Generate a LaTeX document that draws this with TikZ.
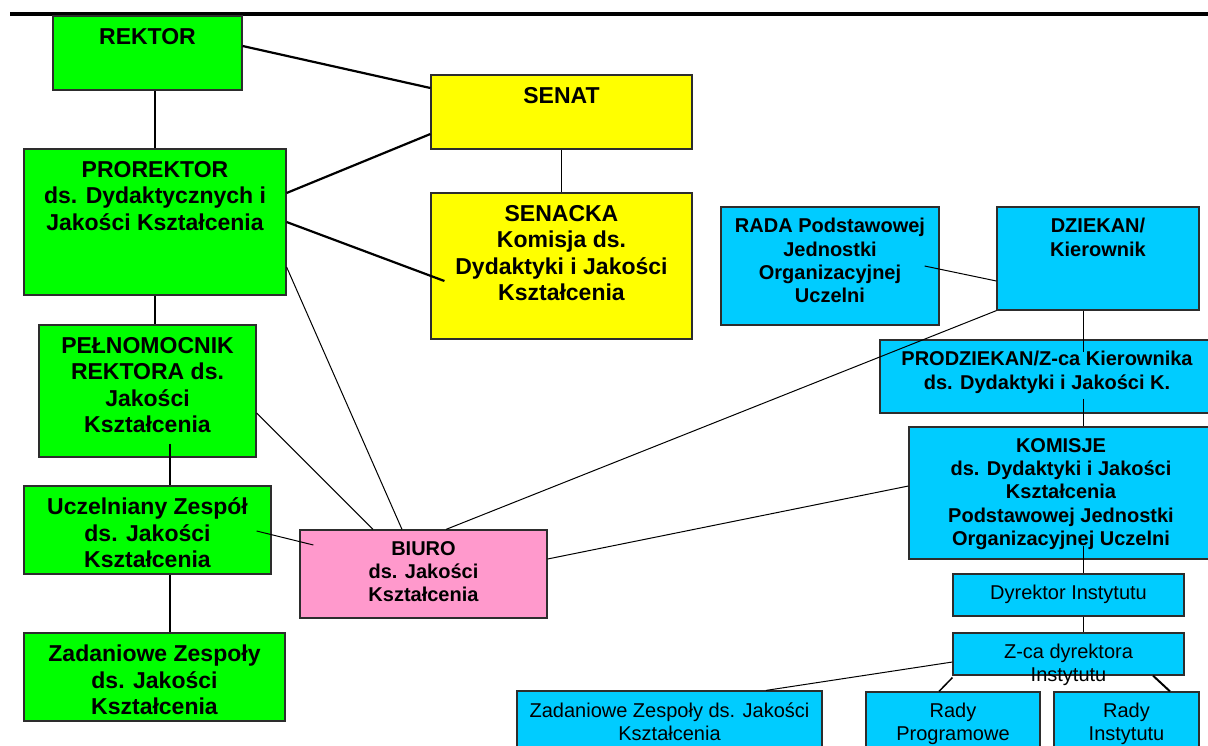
\documentclass[tikz,border=0pt]{standalone}
\usepackage{fontspec}
\setmainfont{Liberation Sans}
\definecolor{boxgreen}{RGB}{0,255,0}
\definecolor{boxyellow}{RGB}{255,255,0}
\definecolor{boxpink}{RGB}{255,153,204}
\definecolor{boxblue}{RGB}{0,204,255}
\definecolor{boxline}{RGB}{45,45,45}

\begin{document}
\begin{tikzpicture}[x=1pt,y=-1pt,
    box/.style={draw=boxline,line width=1.2pt,inner sep=0pt,rectangle},
    gbox/.style={box,fill=boxgreen},
    ybox/.style={box,fill=boxyellow},
    pbox/.style={box,fill=boxpink},
    bbox/.style={box,fill=boxblue},
    bigtext/.style={anchor=north,yshift=-12.5pt,align=center,inner sep=0pt,
                    font=\fontsize{23}{26.5}\selectfont\bfseries},
    smalltext/.style={anchor=north,yshift=-11.7pt,align=center,inner sep=0pt,
                    font=\fontsize{20}{23.3}\selectfont\bfseries},
    plaintext/.style={anchor=north,yshift=-11.7pt,align=center,inner sep=0pt,
                    font=\fontsize{20}{23}\selectfont},
    mainlink/.style={draw=black,line width=2.2pt},
    sidelink/.style={draw=black,line width=1pt}]
    \useasboundingbox (0,0) rectangle (1208,745);
    \draw [line width=4.3pt] (10,14) -- (1208,14);

    % uczelnia
    \node [gbox,minimum width=189,minimum height=74,
           label={[bigtext]north:REKTOR}] (rektor) at (147.5,53) {};
    \node [ybox,minimum width=261,minimum height=74,
           label={[bigtext]north:SENAT}] (senat) at (561.5,112) {};
    \node [gbox,minimum width=262,minimum height=146,
           label={[bigtext]north:PROREKTOR\\ds. Dydaktycznych i\\Jakości Kształcenia}]
           (prorektor) at (155,222) {};
    \node [ybox,minimum width=261,minimum height=146,
           label={[bigtext]north:SENACKA\\Komisja ds.\\Dydaktyki i Jakości\\Kształcenia}]
           (senacka) at (561.5,266) {};
    \node [gbox,minimum width=217,minimum height=132,
           label={[bigtext]north:PEŁNOMOCNIK\\REKTORA ds.\\Jakości\\Kształcenia}]
           (pelnomocnik) at (147.5,391) {};
    \node [gbox,minimum width=247,minimum height=88,
           label={[bigtext]north:Uczelniany Zespół\\ds. Jakości\\Kształcenia}]
           (zespol) at (147.5,530) {};
    \node [gbox,minimum width=261,minimum height=88,
           label={[bigtext]north:Zadaniowe Zespoły\\ds. Jakości\\Kształcenia}]
           (zadaniowe) at (154.5,677) {};
    \node [pbox,minimum width=247,minimum height=88,
           label={[smalltext]north:BIURO\\ds. Jakości\\Kształcenia}]
           (biuro) at (423.5,574) {};

    % jednostka
    \node [bbox,minimum width=218,minimum height=118,
           label={[smalltext]north:RADA Podstawowej\\Jednostki\\Organizacyjnej\\Uczelni}]
           (rada) at (830,266) {};
    \node [bbox,minimum width=202,minimum height=103,
           label={[smalltext]north:DZIEKAN/\\Kierownik}] (dziekan) at (1098,258.5) {};
    \node [bbox,minimum width=334,minimum height=73,
           label={[smalltext]north:PRODZIEKAN/Z-ca Kierownika\\ds. Dydaktyki i Jakości K.}]
           (prodziekan) at (1047,376.5) {};
    \node [bbox,minimum width=304,minimum height=132,
           label={[smalltext]north:KOMISJE\\ds. Dydaktyki i Jakości\\Kształcenia\\Podstawowej Jednostki\\Organizacyjnej Uczelni}]
           (komisje) at (1061,493) {};
    \node [bbox,minimum width=231,minimum height=42,
           label={[plaintext]north:Dyrektor Instytutu}] (dyrektor) at (1068.5,595) {};
    \node [bbox,minimum width=231,minimum height=42,
           label={[plaintext]north:Z-ca dyrektora\\Instytutu}] (zastepca) at (1068.5,654) {};
    \node [bbox,minimum width=305,minimum height=70,
           label={[plaintext]north:Zadaniowe Zespoły ds. Jakości\\Kształcenia}]
           (zespolyinst) at (669.5,726) {};
    \node [bbox,minimum width=174,minimum height=70,
           label={[plaintext]north:Rady\\Programowe}] (radyprog) at (953,727) {};
    \node [bbox,minimum width=145,minimum height=70,
           label={[plaintext]north:Rady\\Instytutu}] (radyinst) at (1126.5,727) {};

    \draw [mainlink] ([yshift=7pt]rektor.east) -- ([yshift=24pt]senat.west);
    \draw [sidelink,line width=1.3pt] (prorektor.north) -- (prorektor.north |- rektor.south);
    \draw [mainlink] ([yshift=29pt]prorektor.east) -- ([yshift=-22pt]senat.west);
    \draw [mainlink] (prorektor.east) -- ([xshift=14pt,yshift=-15pt]senacka.west);
    \draw [mainlink,line width=1.8pt] (senat.south) -- (senacka.north);
    \draw [sidelink,line width=1.3pt] (prorektor.south) -- (prorektor.south |- pelnomocnik.north);
    \draw [sidelink] ([yshift=-45pt]prorektor.east) -- ([xshift=-21.5pt]biuro.north);
    \draw [sidelink] ([yshift=-22pt]pelnomocnik.east) -- ([xshift=-50.5pt]biuro.north);
    \draw [mainlink] ([xshift=22.5pt,yshift=14pt]pelnomocnik.south) -- ([xshift=22.5pt]zespol.north);
    \draw [mainlink] ([xshift=22.5pt]zespol.south) -- ([xshift=15.5pt]zadaniowe.north);
    \draw [sidelink] ([xshift=-15pt,yshift=-1pt]zespol.east) -- ([xshift=14pt,yshift=29pt]biuro.west);
    \draw [sidelink] (dziekan.south west) -- ([xshift=22.5pt]biuro.north);
    \draw [sidelink] ([yshift=7pt]komisje.west) -- ([yshift=15pt]biuro.east);
    \draw [sidelink] ([xshift=-15pt]rada.east) -- ([yshift=-22.5pt]dziekan.west);
    \draw [sidelink] ([xshift=-15pt]dziekan.south) -- ([xshift=36pt,yshift=-13pt]prodziekan.north);
    \draw [sidelink] ([xshift=36pt,yshift=15pt]prodziekan.south) -- ([xshift=22pt]komisje.north);
    \draw [sidelink] ([xshift=22pt,yshift=14pt]komisje.south) -- ([xshift=14.5pt]dyrektor.north);
    \draw [sidelink] ([xshift=14.5pt]dyrektor.south) -- ([xshift=14.5pt]zastepca.north);
    \draw [sidelink] ([yshift=-8pt]zastepca.west) -- ([xshift=96.5pt]zespolyinst.north);
    \draw [sidelink,line width=1.5pt] ([yshift=-2pt]zastepca.south west) -- ([xshift=-14pt]radyprog.north);
    \draw [mainlink,line width=2pt] ([xshift=84.5pt]zastepca.south) -- ([xshift=43.5pt]radyinst.north);
\end{tikzpicture}
\end{document}
